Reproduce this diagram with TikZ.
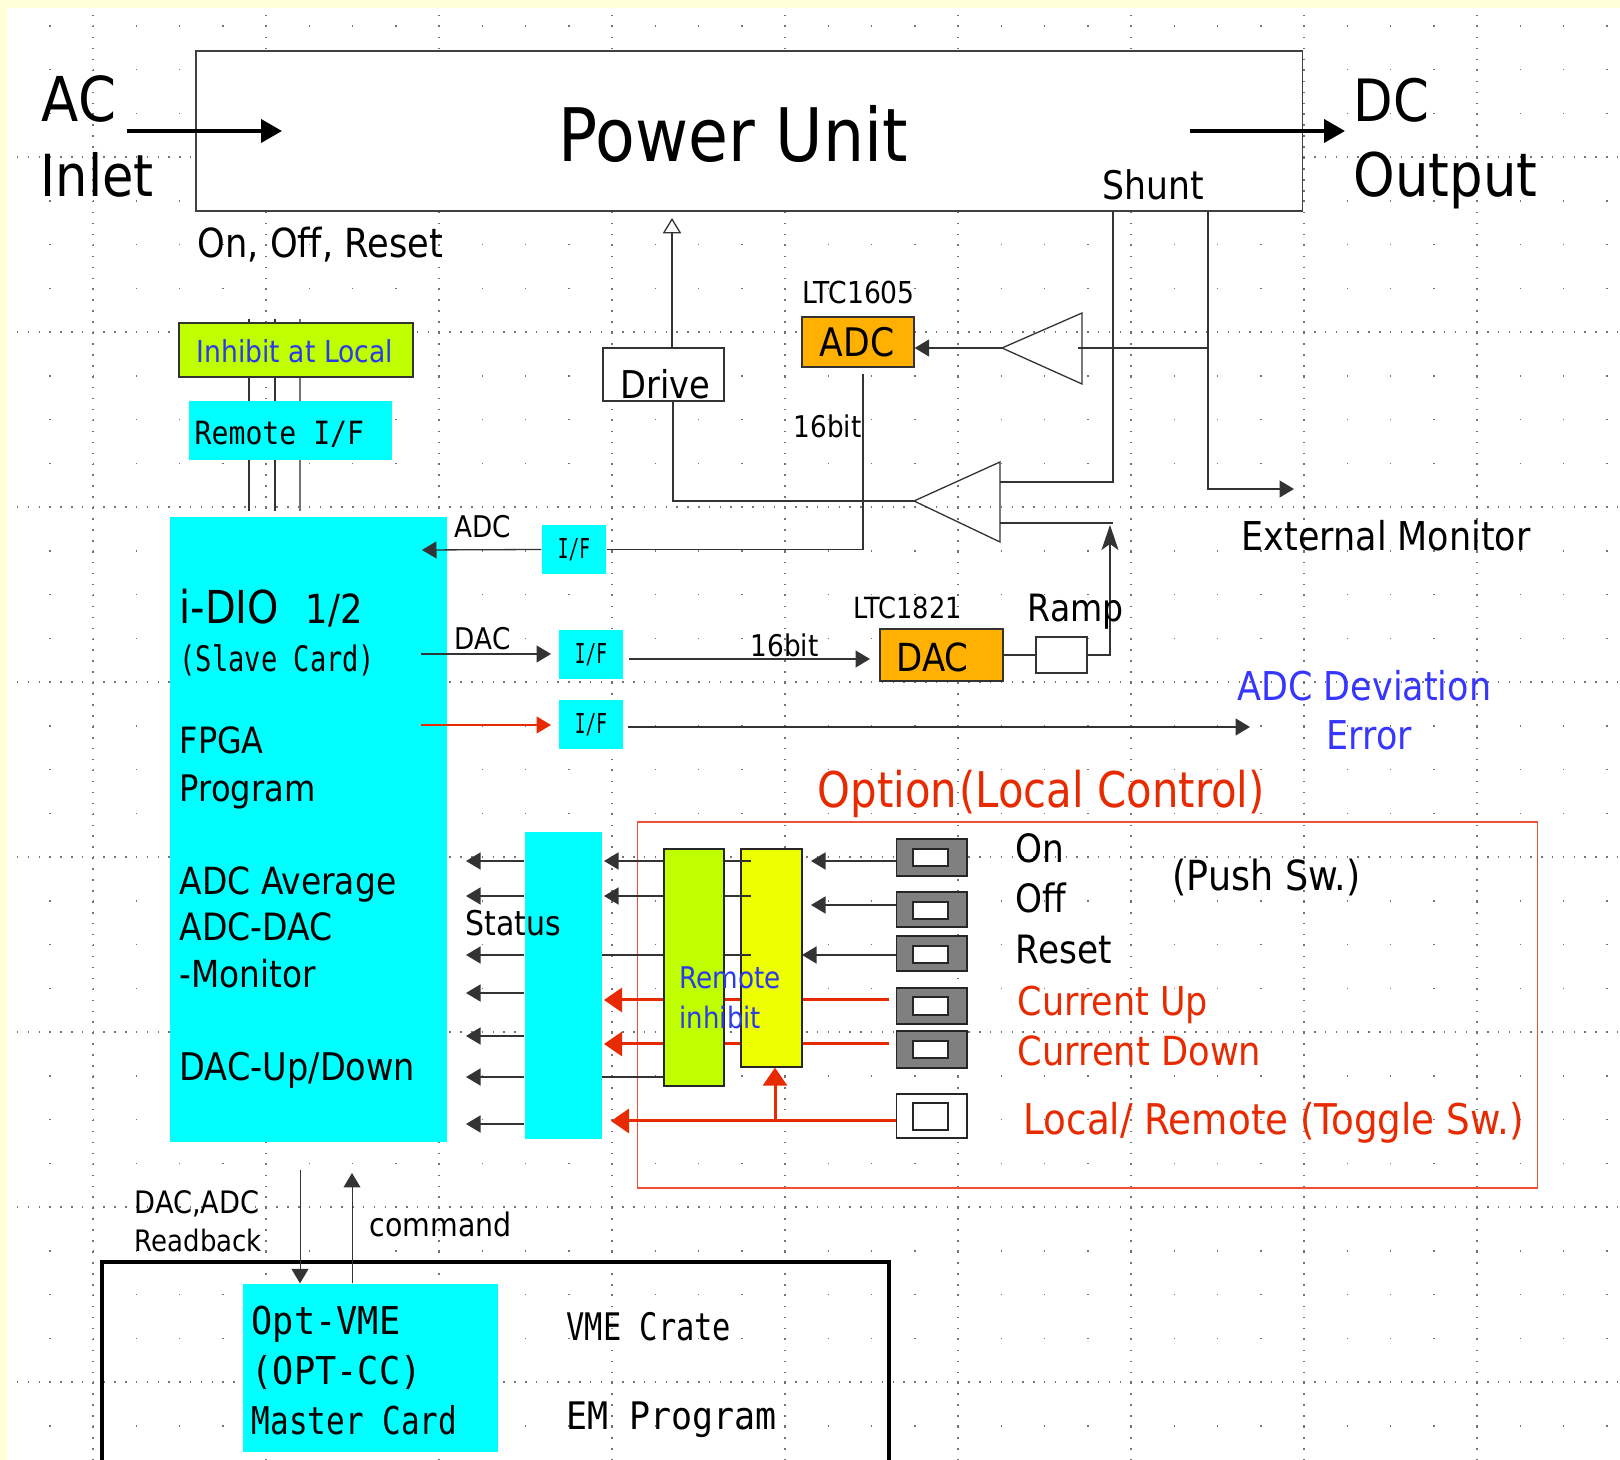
\documentclass[tikz,border=0pt]{standalone}
\usepackage{fontspec}
\setmainfont{DejaVu Sans}[FakeStretch=0.88]
\usetikzlibrary{arrows.meta}

\definecolor{paleback}{HTML}{FFFFD8}
\definecolor{cardcyan}{HTML}{00FFFF}
\definecolor{limebox}{HTML}{BFFF00}
\definecolor{yellowbox}{HTML}{EEFF00}
\definecolor{chipbox}{HTML}{FFB000}
\definecolor{redsig}{HTML}{E82A00}
\definecolor{redframe}{HTML}{F05038}
\definecolor{bluetxt}{HTML}{2A3CE8}
\definecolor{bluemsg}{HTML}{3636FF}
\definecolor{swgray}{HTML}{808080}

\newcommand{\tsize}[1]{\fontsize{#1}{#1}\selectfont}
\newcommand{\monotxt}[2]{\fontspec{DejaVu Sans Mono}[FakeStretch=#2]\fontsize{#1}{#1}\selectfont}

\tikzset{
	griddot/.style={black!55, line width=0.15mm},
	lbl/.style={anchor=base west, inner sep=0pt, yshift=-0.38mm},
	boxnode/.style={inner sep=0pt, line width=0.13mm},
	card/.style={boxnode, fill=cardcyan},
	wire/.style={draw=black!80, line width=0.13mm},
	sig/.style={wire, -{Triangle[length=1.45mm,width=1.7mm]}},
	powerarrow/.style={line width=0.4mm, -{Triangle[length=2.1mm,width=2.3mm]}},
	redarrow/.style={redsig, line width=0.3mm, -{Triangle[length=1.8mm,width=2.4mm]}},
	swbody/.style={boxnode, draw=black!85, fill=swgray, line width=0.16mm, minimum width=7.05mm},
	swcap/.style={boxnode, draw=black!85, fill=white, line width=0.16mm, minimum width=3.5mm}
}

\begin{document}
\begin{tikzpicture}[x=0.1mm, y=-0.1mm]

	\useasboundingbox (0,0) rectangle (1620,1460);
	\clip (0,0) rectangle (1620,1460);
	\fill[paleback] (0,0) rectangle (1620,1460);
	\fill[white] (7,8) rectangle (1620,1460);

	\foreach \y in {26,69.75,...,1460}
		\draw[griddot, dash pattern=on 0.15mm off 4.175mm] (49.25,\y) -- (1620,\y);
	\foreach \y in {157,332,507,682,857,1032,1207,1382}
		\draw[griddot, dash pattern=on 0.15mm off 0.931mm] (17,\y) -- (1620,\y);
	\foreach \x in {93,266,439,612,785,958,1131,1304,1477}
		\draw[griddot, dash pattern=on 0.15mm off 0.944mm] (\x,15) -- (\x,1460);

	\node[boxnode, draw=black!75, fill=white, minimum width=110.65mm, minimum height=16mm] (power) at (749.25,131) {};

	\coordinate (acStart) at (127,131);
	\coordinate (acEnd) at (282,131);
	\coordinate (dcStart) at (1190,131);
	\coordinate (dcEnd) at (1345,131);
	\draw[powerarrow] (acStart) -- (acEnd);
	\draw[powerarrow] (dcStart) -- (dcEnd);

	\coordinate (rempinA) at (249,319);
	\coordinate (rempinB) at (275,319);
	\coordinate (rempinC) at (300,319);
	\coordinate (remendA) at (249,511);
	\coordinate (remendB) at (275,511);
	\coordinate (remendC) at (300,511);
	\draw[wire] (rempinA) -- (remendA);
	\draw[wire] (rempinB) -- (remendB);
	\draw[wire, draw=black!55] (rempinC) -- (remendC);

	\node[boxnode, draw=black!80, fill=limebox, minimum width=23.4mm, minimum height=5.4mm] (inhibit) at (296,350) {};
	\node[card, minimum width=20.3mm, minimum height=5.9mm] (remoteif) at (290.5,430.5) {};
	\node[card, minimum width=27.7mm, minimum height=62.5mm] (idio) at (308.5,829.5) {};

	\node[card, font={\monotxt{7.8}{0.65}}, minimum width=6.4mm, minimum height=4.9mm] (ifadc) at (574,549.5) {I/F};
	\node[card, font={\monotxt{7.8}{0.65}}, minimum width=6.4mm, minimum height=4.9mm] (ifdac) at (591,654.5) {I/F};
	\node[card, font={\monotxt{7.8}{0.65}}, minimum width=6.4mm, minimum height=4.9mm] (iferr) at (591,724.5) {I/F};
	\node[card, minimum width=7.7mm, minimum height=30.7mm] (status) at (563.5,985.5) {};

	\node[boxnode, draw=redframe, line width=0.15mm, minimum width=90mm, minimum height=36.6mm] (option) at (1087.5,1005) {};

	\node[boxnode, draw=black!80, fill=chipbox, minimum width=11.2mm, minimum height=5mm] (adc) at (858,342) {};
	\node[boxnode, draw=black!80, fill=chipbox, minimum width=12.3mm, minimum height=5.2mm] (dac) at (941.5,655) {};
	\node[boxnode, draw=black!80, fill=white, minimum width=5.1mm, minimum height=3.6mm] (ramp) at (1061.5,655) {};
	\node[boxnode, draw=black!80, fill=white, minimum width=12.1mm, minimum height=5.3mm] (drive) at (663.5,374.5) {};

	\coordinate (ampuptip) at (1002,348);
	\coordinate (ampuptop) at (1082,313);
	\coordinate (ampupbot) at (1082,384);
	\draw[wire] (ampuptip) -- (ampuptop) -- (ampupbot) -- cycle;
	\coordinate (amplowtip) at (914,501);
	\coordinate (amplowtop) at (1000,462);
	\coordinate (amplowbot) at (1000,542);
	\draw[wire] (amplowtip) -- (amplowtop) -- (amplowbot) -- cycle;

	\coordinate (shuntA) at (1113,211);
	\coordinate (shuntB) at (1208,211);
	\coordinate (amplowinA) at (1000,482);
	\coordinate (amplowinB) at (1000,523);
	\coordinate (ampupin) at (1078,348);
	\coordinate (extmon) at (1294,489);
	\draw[wire] (shuntA) |- (amplowinA);
	\draw[wire] (amplowinB) -- (amplowinB -| shuntA);
	\draw[sig] (shuntB) |- (extmon);
	\draw[wire] (ampupin) -- (ampupin -| shuntB);
	\draw[sig] (ampuptip) -- (ampuptip -| adc.east);

	\coordinate (driveup) at (672,218);
	\coordinate (drivedown) at (673,401);
	\draw[wire, -{Triangle[open, fill=white, length=1.55mm, width=1.85mm]}] (drive.north -| driveup) -- (driveup);
	\draw[wire] (drivedown) |- (amplowtip);

	\coordinate (adcout) at (863,374);
	\coordinate (idioadc) at (422,550);
	\draw[wire] (adcout) |- (ifadc.east);
	\draw[sig] (ifadc.west) -- (idioadc);

	\coordinate (dacfrom) at (421,654);
	\coordinate (dacto) at (551,654);
	\coordinate (dacbus) at (629,659);
	\coordinate (dacbusend) at (870,659);
	\draw[sig] (dacfrom) -- (dacto);
	\draw[sig] (dacbus) -- (dacbusend);

	\coordinate (errfrom) at (421,725);
	\coordinate (errto) at (551,725);
	\coordinate (errbus) at (628,727);
	\coordinate (errend) at (1250,727);
	\draw[redsig, line width=0.12mm, -{Triangle[length=1.45mm,width=1.7mm]}] (errfrom) -- (errto);
	\draw[sig] (errbus) -- (errend);

	\coordinate (rampup) at (1110,525);
	\draw[wire] (dac.east) -- (ramp.west);
	\draw[wire, -{Stealth[length=2.5mm,width=1.7mm,inset=0.6mm]}] (ramp.east) -| (rampup);

	\coordinate (upstart) at (889,1000);
	\coordinate (uptip) at (604,1000);
	\coordinate (downstart) at (889,1044);
	\coordinate (downtip) at (604,1044);
	\draw[redarrow] (upstart) -- (uptip);
	\draw[redarrow] (downstart) -- (downtip);

	\node[boxnode, draw=black!85, fill=limebox, minimum width=6mm, minimum height=23.7mm] (greenlatch) at (694,967.5) {};
	\node[boxnode, draw=black!85, fill=yellowbox, minimum width=6.1mm, minimum height=21.8mm] (yellowlatch) at (771.5,958) {};

	\node[swbody, minimum height=3.7mm] (swon) at (931.75,857.5) {};
	\node[swcap, minimum height=1.7mm] (swoncap) at (930.5,857.5) {};
	\node[swbody, minimum height=3.5mm] (swoff) at (931.75,909.5) {};
	\node[swcap, minimum height=1.7mm] (swoffcap) at (930.5,910.5) {};
	\node[swbody, minimum height=3.5mm] (swreset) at (931.75,953.5) {};
	\node[swcap, minimum height=1.7mm] (swresetcap) at (930.5,954.5) {};
	\node[swbody, minimum height=3.6mm] (swup) at (931.75,1006) {};
	\node[swcap, minimum height=1.8mm] (swupcap) at (930.5,1006) {};
	\node[swbody, minimum height=3.7mm] (swdown) at (931.75,1049.5) {};
	\node[swcap, minimum height=1.7mm] (swdowncap) at (930.5,1049.5) {};
	\node[swbody, fill=white, minimum height=4.4mm] (swtoggle) at (931.75,1116) {};
	\node[swcap, minimum height=2.7mm] (swtogglecap) at (930.5,1116.5) {};

	\foreach \y in {861,896,955,993,1036,1077,1124} {
		\coordinate (stat\y) at (466,\y);
		\draw[sig] (status.west |- stat\y) -- (stat\y);
	}

	\coordinate (onrow) at (811,861);
	\coordinate (offrow) at (811,905);
	\coordinate (resetrow) at (802,955);
	\draw[sig] (swon.west |- onrow) -- (onrow);
	\draw[sig] (swoff.west |- offrow) -- (offrow);
	\draw[sig] (swreset.west |- resetrow) -- (resetrow);

	\coordinate (latchA) at (604,861);
	\coordinate (latchB) at (604,896);
	\coordinate (latchC) at (602,955);
	\coordinate (latchD) at (602,1077);
	\draw[sig] (greenlatch.west |- latchA) -- (latchA);
	\draw[sig] (greenlatch.west |- latchB) -- (latchB);
	\draw[wire] (greenlatch.west |- latchC) -- (latchC);
	\draw[wire] (greenlatch.west |- latchD) -- (latchD);

	\coordinate (stubA) at (751,861);
	\coordinate (stubB) at (751,896);
	\coordinate (stubC) at (751,955);
	\draw[wire] (greenlatch.east |- stubA) -- (stubA);
	\draw[wire] (greenlatch.east |- stubB) -- (stubB);
	\draw[wire] (greenlatch.east |- stubC) -- (stubC);

	\coordinate (toggletip) at (611,1121);
	\coordinate (togglebranch) at (775,1121);
	\draw[redarrow] (swtoggle.west |- toggletip) -- (toggletip);
	\draw[redarrow] (togglebranch) -- (togglebranch |- yellowlatch.south);

	\node[boxnode, draw=black, line width=0.35mm, minimum width=78.7mm, minimum height=23.8mm] (vmecrate) at (495.5,1381) {};
	\node[card, minimum width=25.5mm, minimum height=16.8mm] (optvme) at (370.5,1368) {};

	\coordinate (readfrom) at (300,1170);
	\coordinate (cmdto) at (352,1173);
	\draw[sig, line width=0.1mm] (readfrom) -- (readfrom |- optvme.north);
	\draw[sig, line width=0.1mm] (cmdto |- optvme.north) -- (cmdto);

	\node[lbl, font=\tsize{17.6}] (aclabel) at (41,118) {AC};
	\node[lbl, font=\tsize{16.5}] (inletlabel) at (40,193) {Inlet};
	\node[lbl, font=\tsize{21}] (powerlabel) at (558,158) {Power Unit};
	\node[lbl, font=\tsize{16.6}] (dclabel) at (1353,118) {DC};
	\node[lbl, font=\tsize{17.1}] (outputlabel) at (1353,193) {Output};
	\node[lbl, font=\tsize{11.2}] (shuntlabel) at (1102,196) {Shunt};
	\node[lbl, font=\tsize{11.4}] (onofflabel) at (197,254) {On, Off, Reset};

	\node[lbl, font=\tsize{8.6}, text=bluetxt] (inhibitlabel) at (196,359) {Inhibit at Local};
	\node[lbl, font={\monotxt{9.1}{0.88}}] (remoteiflabel) at (194,441) {Remote I/F};

	\node[lbl, font=\tsize{8.6}] (ltcadc) at (802,300) {LTC1605};
	\node[lbl, font=\tsize{11.2}] (adclabel) at (819,353) {ADC};
	\node[lbl, font=\tsize{10.9}] (drivelabel) at (620,395) {Drive};
	\node[lbl, font=\tsize{8.5}] (bitadc) at (793,434) {16bit};
	\node[lbl, font=\tsize{8.5}] (adcbus) at (454,534) {ADC};
	\node[lbl, font=\tsize{8.5}] (dacbuslabel) at (454,646) {DAC};
	\node[lbl, font=\tsize{8.5}] (bitdac) at (750,653) {16bit};
	\node[lbl, font=\tsize{8.3}] (ltcdac) at (853,615) {LTC1821};
	\node[lbl, font=\tsize{11}] (daclabel) at (896,668) {DAC};
	\node[lbl, font=\tsize{10.7}] (ramplabel) at (1027,618) {Ramp};
	\node[lbl, font=\tsize{11.3}] (extlabel) at (1241,547) {External Monitor};
	\node[lbl, font=\tsize{11.3}, text=bluemsg] (devlabel) at (1237,697) {ADC Deviation};
	\node[lbl, font=\tsize{11.3}, text=bluemsg] (errlabel) at (1326,746) {Error};

	\node[lbl, font=\tsize{12.9}] (idiolabel) at (179,620) {i-DIO};
	\node[lbl, font=\tsize{11.4}] (halflabel) at (305,620) {1/2};
	\node[lbl, font={\monotxt{10}{0.77}}] (slavelabel) at (179,668) {(Slave Card)};
	\node[lbl, font=\tsize{10.3}] (fpgalabel) at (179,750) {FPGA};
	\node[lbl, font=\tsize{10.4}] (proglabel) at (179,798) {Program};
	\node[lbl, font=\tsize{10.65}] (avglabel) at (179,891) {ADC Average};
	\node[lbl, font=\tsize{10.7}] (difflabel) at (179,937) {ADC-DAC};
	\node[lbl, font=\tsize{10.6}] (monlabel) at (179,984) {-Monitor};
	\node[lbl, font=\tsize{10.85}] (uplabel) at (179,1077) {DAC-Up/Down};

	\node[lbl, font=\tsize{9.7}] (statuslabel) at (465,932) {Status};
	\node[lbl, font=\tsize{8.5}, text=bluetxt] (remlabel) at (679,985) {Remote};
	\node[lbl, font=\tsize{8.4}, text=bluetxt] (inhlabel) at (679,1025) {inhibit};

	\node[lbl, font=\tsize{14}\addfontfeature{FakeStretch=0.85}, text=redsig] (optionlabel) at (817,804) {Option\kern0.2mm(Local Control)};
	\node[lbl, font=\tsize{11.1}] (onlabel) at (1015,859) {On};
	\node[lbl, font=\tsize{11.1}] (offlabel) at (1015,909) {Off};
	\node[lbl, font=\tsize{11.1}] (resetlabel) at (1015,960) {Reset};
	\node[lbl, font=\tsize{11.8}] (pushlabel) at (1172,887) {(Push Sw.)};
	\node[lbl, font=\tsize{11.3}, text=redsig] (curuplabel) at (1017,1012) {Current Up};
	\node[lbl, font=\tsize{11.4}, text=redsig] (curdownlabel) at (1017,1062) {Current Down};
	\node[lbl, font=\tsize{12.05}, text=redsig] (togglelabel) at (1023,1131) {Local/ Remote (Toggle Sw.)};

	\node[lbl, font=\tsize{8.8}] (readAlabel) at (134,1210) {DAC,ADC};
	\node[lbl, font=\tsize{8.4}] (readBlabel) at (134,1248) {Readback};
	\node[lbl, font=\tsize{9.2}] (cmdlabel) at (369,1233) {command};
	\node[lbl, font={\monotxt{10.9}{0.92}}] (optAlabel) at (251,1331) {Opt-VME};
	\node[lbl, font={\monotxt{10.9}{0.92}}] (optBlabel) at (251,1381) {(OPT-CC)};
	\node[lbl, font={\monotxt{10.9}{0.81}}] (optClabel) at (251,1431) {Master Card};
	\node[lbl, font={\monotxt{10.8}{0.8}}] (cratelabel) at (566,1337) {VME Crate};
	\node[lbl, font={\monotxt{10.8}{0.92}}] (emlabel) at (566,1426) {EM Program};

\end{tikzpicture}
\end{document}
